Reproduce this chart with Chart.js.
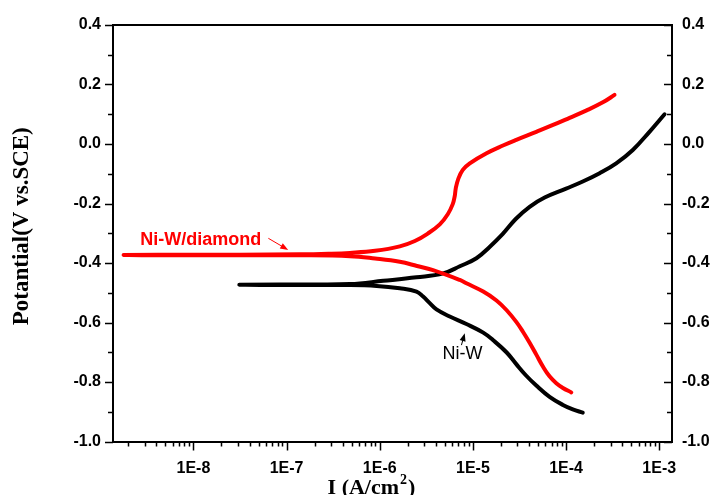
<!DOCTYPE html>
<html>
<head>
<meta charset="utf-8">
<script src="https://cdn.jsdelivr.net/npm/chart.js@4/dist/chart.umd.min.js"></script>
<style>
  html, body { margin: 0; padding: 0; background: #fff; }
  #wrap { width: 711px; height: 495px; }
</style>
</head>
<body>
<div id="wrap"><canvas id="tafel"></canvas></div>
<script>
// Ni-W/diamond (red) - from cathodic end, through Ecorr, to anodic end
const diamondCurrent = [1.138e-4, 9.25e-5, 7.85e-5, 6.64e-5, 5.64e-5, 4.79e-5, 4.06e-5, 3.44e-5, 2.92e-5, 2.29e-5, 1.79e-5, 1.29e-5, 8.51e-6, 7.23e-6, 3.73e-6, 2.51e-6, 1.64e-6, 8.91e-7, 4.79e-7, 1.39e-7, 3.16e-8, 6.31e-9, 1.78e-9,
    6.31e-9, 3.16e-8, 1.39e-7, 2.82e-7, 4.79e-7, 8.91e-7, 1.64e-6, 2.38e-6, 3.28e-6, 4.41e-6, 5.37e-6, 6.07e-6, 6.38e-6, 6.55e-6, 6.95e-6, 7.78e-6, 9.25e-6, 1.40e-5, 2.10e-5, 2.92e-5, 4.79e-5, 7.24e-5, 1.09e-4, 1.66e-4, 2.48e-4, 3.31e-4];
const diamondPotential = [-0.835, -0.820, -0.804, -0.781, -0.748, -0.708, -0.668, -0.631, -0.598, -0.558, -0.526, -0.496, -0.468, -0.457, -0.424, -0.410, -0.396, -0.385, -0.377, -0.374, -0.374, -0.374, -0.373,
    -0.372, -0.372, -0.371, -0.369, -0.366, -0.359, -0.344, -0.326, -0.301, -0.270, -0.236, -0.202, -0.175, -0.148, -0.118, -0.087, -0.065, -0.031, -0.005, 0.014, 0.041, 0.064, 0.088, 0.113, 0.140, 0.165];

// Ni-W (black)
const niwCurrent = [1.51e-4, 1.18e-4, 9.25e-5, 6.65e-5, 4.79e-5, 3.74e-5, 2.92e-5, 2.29e-5, 1.64e-5, 1.29e-5, 8.51e-6, 5.64e-6, 4.06e-6, 3.44e-6, 2.92e-6, 2.48e-6, 1.64e-6, 9.25e-7, 4.79e-7, 1.39e-7, 3.11e-8,
    1.39e-7, 4.79e-7, 1.09e-6, 2.48e-6, 4.79e-6, 7.23e-6, 1.09e-5, 1.51e-5, 2.08e-5, 2.88e-5, 4.06e-5, 5.89e-5, 1.00e-4, 1.51e-4, 2.29e-4, 3.45e-4, 5.20e-4, 7.85e-4, 1.14e-3];
const niwPotential = [-0.903, -0.892, -0.877, -0.850, -0.812, -0.779, -0.740, -0.700, -0.659, -0.634, -0.605, -0.580, -0.556, -0.535, -0.513, -0.496, -0.485, -0.477, -0.474, -0.474, -0.473,
    -0.472, -0.471, -0.460, -0.448, -0.435, -0.411, -0.384, -0.346, -0.303, -0.252, -0.211, -0.180, -0.150, -0.126, -0.098, -0.065, -0.020, 0.041, 0.100];

const xDecades = [-8, -7, -6, -5, -4, -3];

// labels and arrows, in data units
const notes = [
    { text: 'Ni-W/diamond', at: [2.68e-9, -0.340], from: [6.37e-8, -0.317], to: [1.04e-7, -0.356], color: '#ff0000', font: 'bold 18px "Liberation Sans", Arial, sans-serif' },
    { text: 'Ni-W', at: [4.71e-6, -0.724], from: [7.53e-6, -0.676], to: [8.17e-6, -0.636], color: '#000000', font: '18px "Liberation Sans", Arial, sans-serif' }
];

function toPoints(xs, ys) {
    return xs.map((v, i) => ({ x: v, y: ys[i] }));
}

const tickFont = { family: '"Liberation Sans", Arial, sans-serif', size: 16, weight: 'bold' };

function isMajorY(v) {
    return Math.abs(Math.round(v * 10)) % 2 === 0;
}

function yLabel(v) {
    if (!isMajorY(v)) return '';
    if (Math.abs(v) < 1e-9) return '0.0';
    return Number(v).toFixed(1);
}

const decor = {
    id: 'decor',
    afterDraw(chart) {
        const ctx = chart.ctx;
        const { left, right, top, bottom } = chart.chartArea;
        const sx = chart.scales.x, sy = chart.scales.y;
        ctx.save();
        ctx.strokeStyle = '#000';
        ctx.lineWidth = 2;
        ctx.beginPath();
        ctx.moveTo(left - 1, top);
        ctx.lineTo(right + 1, top);
        ctx.stroke();

        ctx.lineWidth = 1.5;
        ctx.beginPath();
        sx.ticks.forEach(t => {
            const px = Math.round(sx.getPixelForValue(t.value)) + 0.5;
            const len = t.label ? 9 : 5;
            ctx.moveTo(px, bottom);
            ctx.lineTo(px, bottom + len);
        });
        sy.ticks.forEach(t => {
            const py = Math.round(sy.getPixelForValue(t.value)) + 0.5;
            const len = isMajorY(t.value) ? 8 : 5;
            ctx.moveTo(left, py);
            ctx.lineTo(left - len, py);
            ctx.moveTo(right, py);
            ctx.lineTo(right - len, py);
        });
        ctx.stroke();

        // notes
        notes.forEach(n => {
            ctx.fillStyle = n.color;
            ctx.strokeStyle = n.color;
            ctx.font = n.font;
            ctx.textAlign = 'left';
            ctx.textBaseline = 'alphabetic';
            ctx.fillText(n.text, sx.getPixelForValue(n.at[0]), sy.getPixelForValue(n.at[1]));
            const x1 = sx.getPixelForValue(n.from[0]), y1 = sy.getPixelForValue(n.from[1]);
            const x2 = sx.getPixelForValue(n.to[0]), y2 = sy.getPixelForValue(n.to[1]);
            const a = Math.atan2(y2 - y1, x2 - x1);
            ctx.lineWidth = 1;
            ctx.beginPath();
            ctx.moveTo(x1, y1);
            ctx.lineTo(x2 - 5 * Math.cos(a), y2 - 5 * Math.sin(a));
            ctx.stroke();
            ctx.beginPath();
            ctx.moveTo(x2, y2);
            ctx.lineTo(x2 - 8 * Math.cos(a) + 3 * Math.sin(a), y2 - 8 * Math.sin(a) - 3 * Math.cos(a));
            ctx.lineTo(x2 - 8 * Math.cos(a) - 3 * Math.sin(a), y2 - 8 * Math.sin(a) + 3 * Math.cos(a));
            ctx.closePath();
            ctx.fill();
        });

        // axis titles
        ctx.fillStyle = '#000';
        ctx.font = 'bold 22px "Liberation Serif", "Times New Roman", serif';
        ctx.textBaseline = 'alphabetic';
        const main = 'I (A/cm';
        const w1 = ctx.measureText(main).width;
        ctx.font = 'bold 14px "Liberation Serif", "Times New Roman", serif';
        const w2 = ctx.measureText('2').width;
        ctx.font = 'bold 22px "Liberation Serif", "Times New Roman", serif';
        const w3 = ctx.measureText(')').width;
        const tx = (left + right) / 2 - 22 - (w1 + w2 + w3) / 2;
        const ty = bottom + 52;
        ctx.textAlign = 'left';
        ctx.fillText(main, tx, ty);
        ctx.fillText(')', tx + w1 + w2 + 2, ty);
        ctx.font = 'bold 14px "Liberation Serif", "Times New Roman", serif';
        ctx.fillText('2', tx + w1 + 1, ty - 10);

        ctx.font = 'bold 23px "Liberation Serif", "Times New Roman", serif';
        ctx.translate(28, (top + bottom) / 2 - 7);
        ctx.rotate(-Math.PI / 2);
        ctx.textAlign = 'center';
        ctx.fillText('Potantial(V vs.SCE)', 0, 0);
        ctx.restore();
    }
};

new Chart('tafel', {
    type: 'line',
    data: {
        datasets: [{
            label: 'Ni-W/diamond',
            data: toPoints(diamondCurrent, diamondPotential),
            borderColor: '#ff0000',
            borderWidth: 4,
            borderCapStyle: 'round',
            borderJoinStyle: 'round',
            pointRadius: 0,
            fill: false,
            tension: 0.4
        }, {
            label: 'Ni-W',
            data: toPoints(niwCurrent, niwPotential),
            borderColor: '#000000',
            borderWidth: 4,
            borderCapStyle: 'round',
            borderJoinStyle: 'round',
            pointRadius: 0,
            fill: false,
            tension: 0.4
        }]
    },
    options: {
        responsive: true,
        maintainAspectRatio: false,
        animation: false,
        layout: { padding: { top: 25, left: 0, right: 0, bottom: 0 } },
        plugins: { legend: { display: false }, tooltip: { enabled: false } },
        scales: {
            x: {
                type: 'logarithmic',
                min: 1.37e-9,
                max: 1.37e-3,
                afterBuildTicks: scale => {
                    const list = [];
                    for (let e = -9; e <= -3; e++) {
                        for (let m = 1; m <= 9; m++) {
                            const v = m * Math.pow(10, e);
                            if (v >= scale.min && v <= scale.max) list.push({ value: v });
                        }
                    }
                    scale.ticks = list;
                },
                afterFit: scale => { scale.height = 53.5; },
                grid: { display: false, drawTicks: false },
                border: { display: true, color: '#000', width: 2 },
                ticks: {
                    autoSkip: false,
                    maxRotation: 0,
                    padding: 17,
                    color: '#000',
                    font: tickFont,
                    callback: v => {
                        const e = Math.round(Math.log10(v));
                        return (Math.abs(Math.log10(v) - e) < 1e-6 && xDecades.includes(e)) ? '1E' + e : '';
                    }
                }
            },
            y: {
                position: 'left',
                min: -1.0,
                max: 0.4,
                afterFit: scale => { scale.width = 113; },
                grid: { display: false, drawTicks: false },
                border: { display: true, color: '#000', width: 2 },
                ticks: { stepSize: 0.1, autoSkip: false, padding: 12, color: '#000', font: tickFont, callback: yLabel }
            },
            y2: {
                position: 'right',
                min: -1.0,
                max: 0.4,
                afterFit: scale => { scale.width = 39; },
                grid: { display: false, drawTicks: false },
                border: { display: true, color: '#000', width: 2 },
                ticks: { stepSize: 0.1, autoSkip: false, padding: 10, color: '#000', font: tickFont, callback: yLabel }
            }
        }
    },
    plugins: [decor]
});
</script>
</body>
</html>
